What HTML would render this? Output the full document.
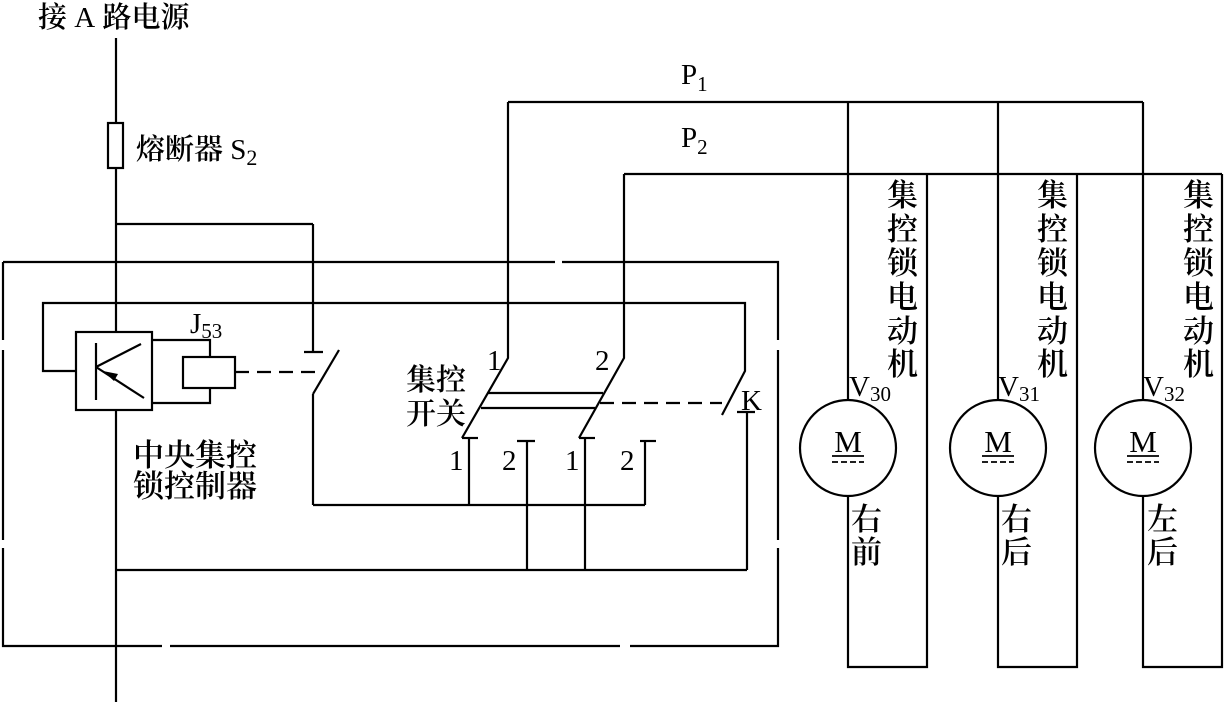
<!DOCTYPE html>
<html><head><meta charset="utf-8"><style>
html,body{margin:0;padding:0;background:#fff;}
svg{display:block;}
text{font-family:"Liberation Serif","Noto Serif CJK SC",serif;fill:#000;}
.c{font-family:"Liberation Serif","Noto Serif CJK SC","Noto Sans CJK SC",serif;font-weight:600;}
.n{font-weight:normal;}
</style></head><body>
<svg width="1227" height="702" viewBox="0 0 1227 702" xmlns="http://www.w3.org/2000/svg">
<g stroke="#000" stroke-width="2.2" fill="none">
<line x1="116" y1="38" x2="116" y2="702"/>
<rect x="108" y="123" width="15" height="45" fill="#fff"/>
<line x1="116" y1="224" x2="313" y2="224"/>
<line x1="313" y1="224" x2="313" y2="352"/>
<line x1="304" y1="352" x2="323" y2="352"/>
<line x1="313" y1="394" x2="339" y2="350"/>
<line x1="313" y1="394" x2="313" y2="505"/>
<polyline points="3,262 555,262"/>
<polyline points="562,262 778,262 778,340"/>
<polyline points="778,350 778,540"/>
<polyline points="778,548 778,646 630,646"/>
<polyline points="620,646 170,646"/>
<polyline points="162,646 3,646 3,548"/>
<polyline points="3,540 3,350"/>
<polyline points="3,340 3,262"/>
<polyline points="76,371 43,371 43,303 745,303 745,371 722,415"/>
<rect x="76" y="332" width="76" height="78" fill="#fff"/>
<line x1="96" y1="343" x2="96" y2="400"/>
<line x1="96" y1="367" x2="141" y2="344"/>
<line x1="96" y1="367" x2="144" y2="398"/>
<polyline points="152,340 210,340 210,357"/>
<polyline points="152,403 210,403 210,388"/>
<rect x="183" y="357" width="52" height="31"/>
<line x1="235" y1="372" x2="322" y2="372" stroke-dasharray="14,8"/>
<line x1="737" y1="412" x2="755" y2="412"/>
<line x1="747" y1="412" x2="747" y2="570"/>
<line x1="116" y1="570" x2="747" y2="570"/>
<polyline points="508,102 508,358 462,438"/>
<line x1="462" y1="438" x2="478" y2="438"/>
<line x1="469" y1="438" x2="469" y2="505"/>
<line x1="517" y1="441" x2="535" y2="441"/>
<line x1="527" y1="441" x2="527" y2="570"/>
<polyline points="624,174 624,358 579,438"/>
<line x1="579" y1="438" x2="595" y2="438"/>
<line x1="585" y1="438" x2="585" y2="570"/>
<line x1="640" y1="441" x2="656" y2="441"/>
<line x1="645" y1="441" x2="645" y2="505"/>
<line x1="313" y1="505" x2="645" y2="505"/>
<line x1="488" y1="393" x2="603" y2="393"/>
<line x1="481" y1="408" x2="595" y2="408"/>
<line x1="600" y1="403" x2="722" y2="403" stroke-dasharray="14,8"/>
<line x1="508" y1="102" x2="1143" y2="102"/>
<line x1="624" y1="174" x2="1222" y2="174"/>
<polyline points="848,102 848,400"/><polyline points="848,496 848,667 927,667 927,174"/>
<polyline points="998,102 998,400"/><polyline points="998,496 998,667 1077,667 1077,174"/>
<polyline points="1143,102 1143,400"/><polyline points="1143,496 1143,667 1222,667 1222,174"/>
<circle cx="848" cy="448" r="48"/>
<circle cx="998" cy="448" r="48"/>
<circle cx="1143" cy="448" r="48"/>
<g stroke-width="1.8">
<line x1="832" y1="456" x2="864" y2="456"/><line x1="832" y1="462" x2="864" y2="462" stroke-dasharray="6,3"/>
<line x1="982" y1="456" x2="1014" y2="456"/><line x1="982" y1="462" x2="1014" y2="462" stroke-dasharray="6,3"/>
<line x1="1127" y1="456" x2="1159" y2="456"/><line x1="1127" y1="462" x2="1159" y2="462" stroke-dasharray="6,3"/>
</g>
</g>
<polygon points="103,371 118,374 114,381" fill="#000"/>
<g class="c" font-size="29">
<text x="38" y="27">接 <tspan class="n">A</tspan> 路电源</text>
<text x="136" y="159">熔断器 <tspan class="n">S</tspan><tspan class="n" font-size="22" dy="6">2</tspan></text>
<text x="190" y="333" class="n">J<tspan font-size="21" dy="5">53</tspan></text>
<text x="133" y="466" font-size="31">中央集控</text>
<text x="133" y="497" font-size="31">锁控制器</text>
<text x="406" y="390" font-size="30">集控</text>
<text x="406" y="424" font-size="30">开关</text>
<text x="487" y="370" class="n">1</text>
<text x="595" y="370" class="n">2</text>
<text x="449" y="470" class="n">1</text>
<text x="502" y="470" class="n">2</text>
<text x="565" y="470" class="n">1</text>
<text x="620" y="470" class="n">2</text>
<text x="741" y="410" class="n">K</text>
<text x="681" y="84" class="n">P<tspan font-size="21" dy="7">1</tspan></text>
<text x="681" y="147" class="n">P<tspan font-size="21" dy="7">2</tspan></text>
<text x="849" y="396" class="n">V<tspan font-size="21" dy="5">30</tspan></text>
<text x="998" y="396" class="n">V<tspan font-size="21" dy="5">31</tspan></text>
<text x="1143" y="396" class="n">V<tspan font-size="21" dy="5">32</tspan></text>
<text x="848" y="452" text-anchor="middle" class="n" font-size="31">M</text>
<text x="998" y="452" text-anchor="middle" class="n" font-size="31">M</text>
<text x="1143" y="452" text-anchor="middle" class="n" font-size="31">M</text>
</g>
<g class="c" font-size="31">
<text x="887" y="206">集</text><text x="887" y="240">控</text><text x="887" y="274">锁</text><text x="887" y="308">电</text><text x="887" y="342">动</text><text x="887" y="375">机</text>
<text x="1037" y="206">集</text><text x="1037" y="240">控</text><text x="1037" y="274">锁</text><text x="1037" y="308">电</text><text x="1037" y="342">动</text><text x="1037" y="375">机</text>
<text x="1183" y="206">集</text><text x="1183" y="240">控</text><text x="1183" y="274">锁</text><text x="1183" y="308">电</text><text x="1183" y="342">动</text><text x="1183" y="375">机</text>
<text x="851" y="530">右</text><text x="851" y="563">前</text>
<text x="1001" y="530">右</text><text x="1001" y="563">后</text>
<text x="1147" y="530">左</text><text x="1147" y="563">后</text>
</g>
</svg>
</body></html>
